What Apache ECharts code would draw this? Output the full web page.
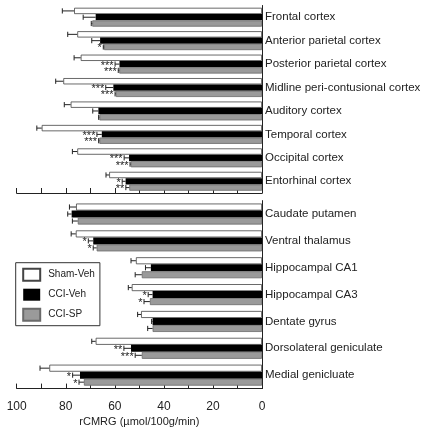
<!DOCTYPE html>
<html>
<head>
<meta charset="utf-8">
<script src="https://cdn.jsdelivr.net/npm/echarts@6/dist/echarts.min.js"></script>
<style>
html,body{margin:0;padding:0;background:#fff;}
#chart{width:423px;height:437px;}
</style>
</head>
<body>
<div id="chart"></div>
<script>
// ---- data ----
const seriesNames = ['Sham-Veh', 'CCI-Veh', 'CCI-SP'];
const xTicks = [0, 20, 40, 60, 80, 100];

const categoriesTop = ['Frontal cortex', 'Anterior parietal cortex', 'Posterior parietal cortex',
  'Midline peri-contusional cortex', 'Auditory cortex', 'Temporal cortex', 'Occipital cortex', 'Entorhinal cortex'];
const shamTop       = [76.6, 75.3, 73.9, 81.0, 78.0, 89.8, 75.3, 62.3];
const shamTopErr    = [4.8, 3.9, 2.7, 3.1, 2.6, 2.0, 2.0, 1.3];
const cciVehTop     = [67.8, 66.0, 58.1, 60.6, 66.7, 65.3, 54.2, 55.6];
const cciVehTopErr  = [5.1, 3.4, 1.8, 3.1, 2.3, 2.0, 2.0, 1.4];
const cciSpTop      = [69.2, 64.4, 58.2, 59.6, 66.3, 66.3, 53.5, 54.1];
const cciSpTopErr   = [0.4, 0.3, 0.4, 0.3, 0.3, 0.3, 0.3, 1.4];
const shamTopSig    = ['', '', '', '', '', '', '', ''];
const cciVehTopSig  = ['', '', '***', '***', '', '***', '***', '*'];
const cciSpTopSig   = ['', '*', '***', '***', '', '***', '***', '**'];

const categoriesBottom = ['Caudate putamen', 'Ventral thalamus', 'Hippocampal CA1', 'Hippocampal CA3',
  'Dentate gyrus', 'Dorsolateral geniculate', 'Medial genicluate'];
const shamBottom       = [75.8, 75.9, 51.4, 53.1, 49.3, 67.8, 86.7];
const shamBottomErr    = [2.7, 1.9, 2.0, 1.4, 1.4, 1.6, 3.8];
const cciVehBottom     = [77.6, 68.8, 45.3, 44.6, 44.6, 53.4, 74.2];
const cciVehBottomErr  = [1.6, 2.0, 2.2, 1.8, 0.4, 2.9, 3.0];
const cciSpBottom      = [75.1, 67.4, 49.0, 45.7, 44.6, 49.0, 72.6];
const cciSpBottomErr   = [2.2, 1.4, 2.7, 2.4, 2.0, 2.7, 2.0];
const shamBottomSig    = ['', '', '', '', '', '', ''];
const cciVehBottomSig  = ['', '*', '', '*', '', '**', '*'];
const cciSpBottomSig   = ['', '*', '', '*', '', '***', '*'];

// ---- styles ----
const FONT = '"Liberation Sans", Arial, Helvetica, sans-serif';
const INK = '#222';
const barStyles = [
  { color: '#ffffff', borderColor: '#444', borderWidth: 0.8 },
  { color: '#000000', borderColor: '#000', borderWidth: 0 },
  { color: '#9a9a9a', borderColor: '#6a6a6a', borderWidth: 0.8 }
];

function makeBars(gridIdx, values, bw) {
  return values.map((vals, s) => ({
    type: 'bar', name: seriesNames[s],
    xAxisIndex: gridIdx, yAxisIndex: gridIdx,
    barWidth: bw, barGap: '0%',
    itemStyle: barStyles[s],
    data: vals, z: 2
  }));
}

function makeErr(gridIdx, values, errs, sigs, bw) {
  const items = [];
  values.forEach((vals, s) => vals.forEach((v, c) => items.push({ v: v, c: c, e: errs[s][c], s: s, sig: sigs[s][c] })));
  return {
    type: 'custom', xAxisIndex: gridIdx, yAxisIndex: gridIdx, z: 5, silent: true,
    data: items.map(it => [it.v, it.c, it.e, it.s]),
    renderItem: function (params, api) {
      const it = items[params.dataIndex];
      const p0 = api.coord([it.v, it.c]);
      const p1 = api.coord([it.v + it.e, it.c]);
      const y = p0[1] + (it.s - 1) * bw;
      const x0 = p0[0], x1 = p1[0];
      const st = { stroke: INK, lineWidth: 1 };
      const kids = [
        { type: 'line', shape: { x1: x0, y1: y, x2: x1, y2: y }, style: st },
        { type: 'line', shape: { x1: x1, y1: y - 2.6, x2: x1, y2: y + 2.6 }, style: st }
      ];
      if (it.sig) {
        kids.push({ type: 'text', style: { text: it.sig, x: x1 - 1.5, y: y + 1.5, align: 'right', verticalAlign: 'middle',
          fontSize: 11, fontFamily: FONT, fill: INK } });
      }
      return { type: 'group', children: kids };
    }
  };
}

function xAxisCfg(gridIdx, withLabels) {
  const cfg = {
    type: 'value', gridIndex: gridIdx, inverse: true, min: 0, max: 100, interval: 10,
    axisLine: { show: true, lineStyle: { color: INK, width: 1 } },
    axisTick: { show: true, inside: true, length: 5, lineStyle: { color: INK } },
    splitLine: { show: false },
    axisLabel: {
      show: withLabels, margin: 12, fontSize: 12, fontFamily: FONT, color: INK,
      formatter: v => (xTicks.indexOf(v) >= 0 ? String(v) : '')
    }
  };
  if (withLabels) {
    cfg.name = 'rCMRG (µmol/100g/min)';
    cfg.nameLocation = 'middle';
    cfg.nameGap = 28;
    cfg.nameTextStyle = { fontSize: 11, fontFamily: FONT, color: INK };
  }
  return cfg;
}

function yAxisCfg(gridIdx, cats) {
  return {
    type: 'category', gridIndex: gridIdx, data: cats, inverse: true, position: 'right',
    axisLine: { show: true, lineStyle: { color: INK, width: 1 } },
    axisTick: { show: false },
    axisLabel: { margin: 3, fontSize: 11.5, fontFamily: FONT, color: INK }
  };
}

const bwTop = 6.3, bwBottom = 7;
const topVals = [shamTop, cciVehTop, cciSpTop];
const topErrs = [shamTopErr, cciVehTopErr, cciSpTopErr];
const topSigs = [shamTopSig, cciVehTopSig, cciSpTopSig];
const botVals = [shamBottom, cciVehBottom, cciSpBottom];
const botErrs = [shamBottomErr, cciVehBottomErr, cciSpBottomErr];
const botSigs = [shamBottomSig, cciVehBottomSig, cciSpBottomSig];

const chart = echarts.init(document.getElementById('chart'), null, { renderer: 'canvas' });
chart.setOption({
  animation: false,
  backgroundColor: '#fff',
  grid: [
    { left: 16.7, right: 161, top: 5.5, height: 187.5, containLabel: false, outerBoundsMode: 'none' },
    { left: 16.7, right: 161, top: 200.6, height: 188, containLabel: false, outerBoundsMode: 'none' }
  ],
  xAxis: [xAxisCfg(0, false), xAxisCfg(1, true)],
  yAxis: [yAxisCfg(0, categoriesTop), yAxisCfg(1, categoriesBottom)],
  legend: {
    data: seriesNames, orient: 'vertical', left: 15.7, top: 262.7,
    selectedMode: false, icon: 'rect', itemWidth: 17, itemHeight: 12, itemGap: 7,
    padding: [5, 5, 4, 6.5], borderColor: '#333', borderWidth: 1, backgroundColor: '#fff',
    textStyle: { fontSize: 10, fontFamily: FONT, color: INK, padding: [0, 0, 0, 3] }
  },
  series: [].concat(
    makeBars(0, topVals, bwTop),
    makeBars(1, botVals, bwBottom),
    [makeErr(0, topVals, topErrs, topSigs, bwTop), makeErr(1, botVals, botErrs, botSigs, bwBottom)]
  )
});
</script>
</body>
</html>
